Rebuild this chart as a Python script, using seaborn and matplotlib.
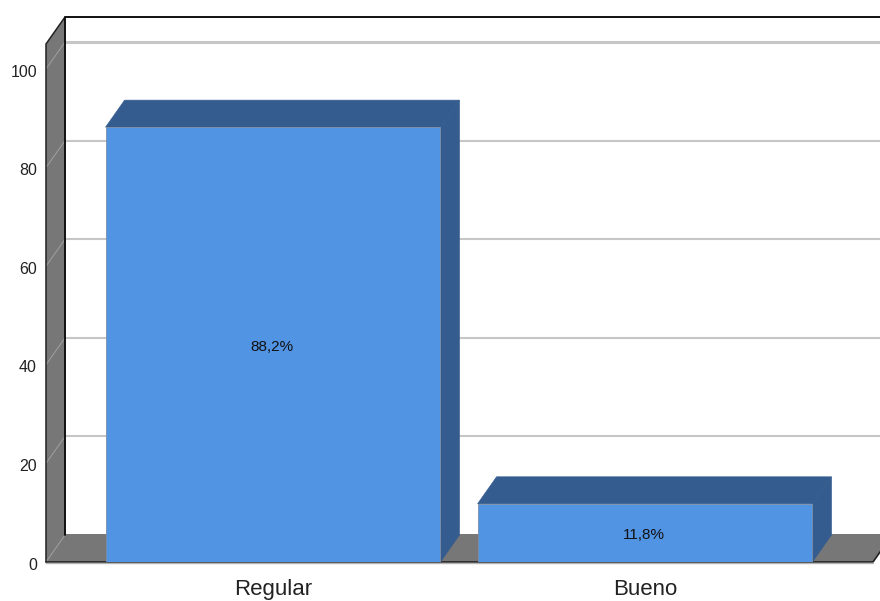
import matplotlib
matplotlib.use("Agg")
import matplotlib.pyplot as plt
from matplotlib.patches import Polygon
from matplotlib.transforms import ScaledTranslation
import pandas as pd
import seaborn as sns

categories = ["Regular", "Bueno"]
percent = [88.2, 11.8]
percent_labels = ["88,2%", "11,8%"]
y_ticks = [0, 20, 40, 60, 80, 100]

FRONT = "#5294e4"
DARK = "#355c8f"
WALL = "#777777"
GRID = "#c6c6c6"

# pixel geometry of the chart box
W, H = 880, 601
LEFT, BOTTOM, TOP = 46, 562, 17
PX_PER_UNIT = 4.93
PX_PER_CAT = 372
DX = 19 / PX_PER_CAT
DY = 27 / PX_PER_UNIT
CENTER = 273

sns.set_theme(style="white")
plt.rcParams["font.family"] = ["Liberation Sans", "DejaVu Sans"]

fig = plt.figure(figsize=(W / 100, H / 100), dpi=100)
ax = fig.add_axes([LEFT / W, (H - BOTTOM) / H, (W - LEFT) / W, (BOTTOM - TOP) / H])

df = pd.DataFrame({"cat": categories, "pct": percent})
sns.barplot(data=df, x="cat", y="pct", order=categories, color=FRONT, saturation=1,
            width=0.9, edgecolor="#7d8ea6", linewidth=0.6, zorder=5, ax=ax)

x0 = -(CENTER - LEFT) / PX_PER_CAT
x1 = (873 - CENTER) / PX_PER_CAT
y1 = (BOTTOM - TOP) / PX_PER_UNIT
ax.set_xlim(x0, (W - CENTER) / PX_PER_CAT)
ax.set_ylim(0, y1)
top = y1 - DY

# left wall and floor
ax.add_patch(Polygon([(x0, 0), (x0 + DX, DY), (x0 + DX, y1), (x0, top)],
                     fc=WALL, ec="none", zorder=2))
ax.add_patch(Polygon([(x0, 0), (x0 + DX, DY + 0.2), (x1 + DX, DY + 0.2), (x1, 0)],
                     fc=WALL, ec="none", zorder=2, clip_on=False))

# gridlines on back wall, carried down the side wall
for t in y_ticks:
    if t > 0:
        ax.plot([x0 + DX, x1 + DX], [t + DY, t + DY], color=GRID,
                lw=1.5 if t < 100 else 2.2, zorder=1)
    ax.plot([x0, x0 + DX], [t, t + DY], color="#a0a0a0", lw=0.7, zorder=3)

# box outline
ax.plot([x0 + DX, x1 + 1], [y1, y1], color="#111111", lw=1.4, zorder=4, clip_on=False)
ax.plot([x0, x0, x0 + DX], [0, top, y1], color="#222222", lw=1.1, zorder=4,
        clip_on=False, solid_joinstyle="miter")
ax.plot([x0 + DX, x0 + DX], [DY, y1], color="#111111", lw=1.4, zorder=4)
ax.plot([x0, x1], [0, 0], color="#222222", lw=1.2, zorder=4, clip_on=False)
ax.plot([x0, x1], [-1.1 / PX_PER_UNIT] * 2, color="#b4b4b4", lw=1, zorder=6, clip_on=False)
ax.plot([x1, x1 + DX], [0, DY], color="#222222", lw=1.2, zorder=4)

# depth faces of the bars
bars = ax.containers[0]
for bar in bars:
    bx0, bx1 = bar.get_x(), bar.get_x() + bar.get_width()
    h = bar.get_height()
    ax.add_patch(Polygon([(bx0, h), (bx0 + DX, h + DY), (bx1 + DX, h + DY), (bx1, h)],
                         fc=DARK, ec=DARK, lw=0.5, zorder=4.5))
    ax.add_patch(Polygon([(bx1, 0), (bx1 + DX, DY), (bx1 + DX, h + DY), (bx1, h)],
                         fc=DARK, ec=DARK, lw=0.5, zorder=4.5))

value_labels = ax.bar_label(bars, labels=percent_labels, label_type="center", fontsize=11,
                            color="#111111", zorder=6)
for ann in value_labels:
    ann.xyann = (-0.7, -1.6)

ax.set_yticks(y_ticks)
ax.set_xlabel("")
ax.set_ylabel("")
ax.tick_params(axis="y", length=0, pad=6.5, labelsize=11.5, colors="#222222")
ax.tick_params(axis="x", length=0, pad=12.5, labelsize=16, colors="#222222")
down = ScaledTranslation(0, -3 / 100, fig.dpi_scale_trans)
for label in ax.get_yticklabels():
    label.set_verticalalignment("center")
    label.set_transform(label.get_transform() + down)
sns.despine(ax=ax, left=True, bottom=True, top=True, right=True)

fig.savefig("out.png", dpi=100)
